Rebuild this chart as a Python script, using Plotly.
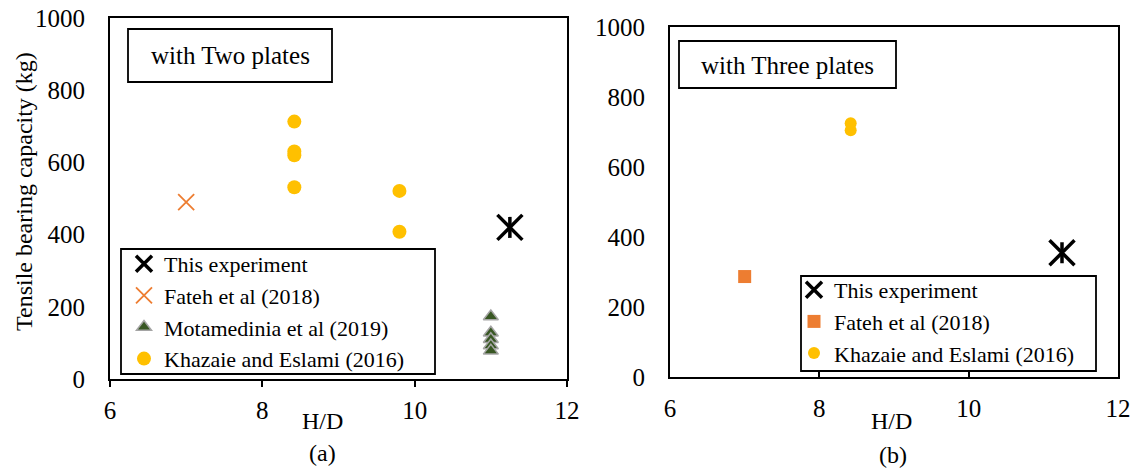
import plotly.graph_objects as go

# ---- data: panel (a) with two plates ----
exp2_x = [11.25]
exp2_y = [420]
fateh2_x = [7.0]
fateh2_y = [490]
mota_x = [11.0, 11.0, 11.0, 11.0, 11.0]
mota_y = [173, 128, 110, 93, 78]
khaz2_x = [8.42, 8.42, 8.42, 8.42, 9.8, 9.8]
khaz2_y = [713, 630, 620, 531, 521, 408]

# ---- data: panel (b) with three plates ----
exp3_x = [11.25]
exp3_y = [355]
fateh3_x = [7.0]
fateh3_y = [287]
khaz3_x = [8.42, 8.42]
khaz3_y = [725, 705]

x_ticks = [6, 8, 10, 12]
y_ticks = [0, 200, 400, 600, 800, 1000]

W, H = 1132, 470
FONT = "Liberation Serif"
ORANGE = "#ED7D31"
GOLD = "#FFC000"
GREEN = "#385723"
GREY = "#A5A5A5"


def px(x):
    return x / W


def py(y):
    return 1 - y / H


fig = go.Figure()


def star(xs, ys, xa, ya, leg):
    # six-armed star: a bold "x" plus a vertical bar
    fig.add_trace(go.Scatter(
        x=xs, y=ys, mode="markers", name="This experiment", xaxis=xa, yaxis=ya, legend=leg,
        marker=dict(symbol="x-thin-open", size=25, color="black", line=dict(color="black", width=3.5))))
    fig.add_trace(go.Scatter(
        x=xs, y=ys, mode="markers", showlegend=False, xaxis=xa, yaxis=ya, legend=leg, hoverinfo="skip",
        marker=dict(symbol="line-ns-open", size=15, color="black", line=dict(color="black", width=3.5))))


# panel (a)
star(exp2_x, exp2_y, "x", "y", "legend")
fig.add_trace(go.Scatter(
    x=fateh2_x, y=fateh2_y, mode="markers", name="Fateh et al (2018)", xaxis="x", yaxis="y", legend="legend",
    marker=dict(symbol="x-thin-open", size=16, color=ORANGE, line=dict(color=ORANGE, width=1.8))))
fig.add_trace(go.Scatter(
    x=mota_x, y=mota_y, mode="markers", name="Motamedinia et al (2019)", xaxis="x", yaxis="y", legend="legend",
    marker=dict(symbol="triangle-up", size=13, color=GREEN, line=dict(color=GREY, width=1.5))))
fig.add_trace(go.Scatter(
    x=khaz2_x, y=khaz2_y, mode="markers", name="Khazaie and Eslami (2016)", xaxis="x", yaxis="y", legend="legend",
    marker=dict(symbol="circle", size=14, color=GOLD, line=dict(width=0))))

# panel (b)
star(exp3_x, exp3_y, "x2", "y2", "legend2")
fig.add_trace(go.Scatter(
    x=fateh3_x, y=fateh3_y, mode="markers", name="Fateh et al (2018)", xaxis="x2", yaxis="y2", legend="legend2",
    marker=dict(symbol="square", size=13, color=ORANGE, line=dict(width=0))))
fig.add_trace(go.Scatter(
    x=khaz3_x, y=khaz3_y, mode="markers", name="Khazaie and Eslami (2016)", xaxis="x2", yaxis="y2", legend="legend2",
    marker=dict(symbol="circle", size=12, color=GOLD, line=dict(width=0))))

tickfont = dict(family=FONT, size=25, color="black")
base_x = dict(range=[6, 12], tickvals=x_ticks, showline=True, mirror=True, linecolor="black", linewidth=2,
              showgrid=False, zeroline=False, tickfont=tickfont, ticklen=6, tickwidth=1.5, tickcolor="black",
              fixedrange=True, automargin=False)
base_y = dict(range=[0, 1000], tickvals=y_ticks, showline=True, mirror=True, linecolor="black", linewidth=2,
              showgrid=False, zeroline=False, tickfont=tickfont, ticks="", fixedrange=True, automargin=False)

legend_base = dict(xanchor="left", yanchor="top", bgcolor="rgba(0,0,0,0)", borderwidth=0,
                   font=dict(family=FONT, size=22, color="black"), tracegroupgap=0)

fig.update_layout(
    template="none",
    width=W, height=H, autosize=False, margin=dict(l=0, r=0, t=0, b=0, pad=0),
    paper_bgcolor="white", plot_bgcolor="white",
    font=dict(family=FONT, color="black"),
    xaxis=dict(base_x, domain=[px(110), px(567)], anchor="y", ticks="outside", ticklabelstandoff=2),
    yaxis=dict(base_y, domain=[py(379), py(18)], anchor="x", ticklabelstandoff=18),
    xaxis2=dict(base_x, domain=[px(670), px(1118)], anchor="y2", ticks="inside", ticklabelstandoff=8),
    yaxis2=dict(base_y, domain=[py(377), py(27)], anchor="x2", ticklabelstandoff=18),
    legend=dict(legend_base, x=px(124), y=py(243)),
    legend2=dict(legend_base, x=px(794), y=py(269)),
    showlegend=True,
)

# frames around the legends and the panel labels
boxes = [(121, 249, 435, 374), (801, 276, 1096, 371), (128, 29, 332, 82), (679, 41, 896, 88)]
for x0, y0, x1, y1 in boxes:
    fig.add_shape(type="rect", xref="paper", yref="paper", x0=px(x0), x1=px(x1), y0=py(y1), y1=py(y0),
                  line=dict(color="black", width=1.8), fillcolor="rgba(0,0,0,0)", layer="above")

texts = [
    ("with Two plates", 230, 56, 0, 25),
    ("with Three plates", 787, 65, 0, 25),
    ("H/D", 323, 421, 0, 24),
    ("(a)", 322, 453, 0, 24),
    ("H/D", 891, 421, 0, 24),
    ("(b)", 893, 455, 0, 24),
    ("Tensile bearing capacity (kg)", 24, 192, -90, 24),
]
for t, x, y, ang, fs in texts:
    fig.add_annotation(text=t, xref="paper", yref="paper", x=px(x), y=py(y), xanchor="center", yanchor="middle",
                       showarrow=False, textangle=ang, font=dict(family=FONT, size=fs, color="black"))

fig.write_html("out.html")
